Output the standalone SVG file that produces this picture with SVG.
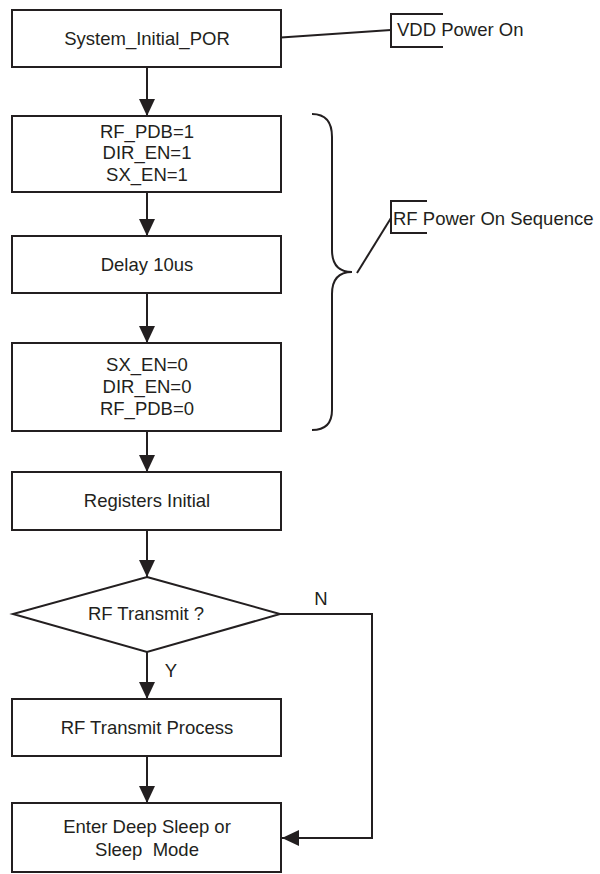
<svg xmlns="http://www.w3.org/2000/svg" width="600" height="874" viewBox="0 0 600 874">
<style>
.box{fill:#fff;stroke:#231f20;stroke-width:2}
.ln{fill:none;stroke:#231f20;stroke-width:2}
.t{font-family:"Liberation Sans",Arial,sans-serif;font-size:18.5px;fill:#231f20;text-anchor:middle;white-space:pre}
.tl{font-family:"Liberation Sans",Arial,sans-serif;font-size:18.5px;fill:#231f20;text-anchor:start}
</style>
<defs>
<marker id="ah" markerUnits="userSpaceOnUse" markerWidth="18" markerHeight="18" viewBox="0 0 18 18" refX="17" refY="9" orient="auto">
<path d="M0,1 L17,9 L0,17 Z" fill="#231f20"/>
</marker>
</defs>
<g id="connectors">
<line class="ln" x1="147" y1="67" x2="147" y2="116" marker-end="url(#ah)"/>
<line class="ln" x1="147" y1="192" x2="147" y2="236" marker-end="url(#ah)"/>
<line class="ln" x1="147" y1="293" x2="147" y2="343" marker-end="url(#ah)"/>
<line class="ln" x1="147" y1="431" x2="147" y2="472" marker-end="url(#ah)"/>
<line class="ln" x1="147" y1="530" x2="147" y2="577" marker-end="url(#ah)"/>
<line class="ln" x1="147" y1="652" x2="147" y2="699" marker-end="url(#ah)"/>
<line class="ln" x1="147" y1="756" x2="147" y2="803" marker-end="url(#ah)"/>
<polyline class="ln" points="280,614 372,614 372,838 282,838" marker-end="url(#ah)"/>
<text class="t" x="321" y="605">N</text>
<text class="t" x="171" y="677">Y</text>
</g>
<g id="n_por">
<rect class="box" x="12" y="10" width="269" height="57"/>
<text class="t" x="147" y="45">System_Initial_POR</text>
</g>
<g id="n_vdd">
<line class="ln" x1="281" y1="37.5" x2="391" y2="30"/>
<polyline class="ln" points="443,14 391,14 391,47 443,47"/>
<text class="tl" x="397" y="36">VDD Power On</text>
</g>
<g id="n_on">
<rect class="box" x="12" y="116" width="269" height="76"/>
<text class="t" x="147" y="138">RF_PDB=1</text>
<text class="t" x="147" y="159">DIR_EN=1</text>
<text class="t" x="147" y="180.5">SX_EN=1</text>
</g>
<g id="n_delay">
<rect class="box" x="12" y="236" width="269" height="57"/>
<text class="t" x="147" y="271">Delay 10us</text>
</g>
<g id="n_off">
<rect class="box" x="12" y="343" width="269" height="88"/>
<text class="t" x="147" y="370.5">SX_EN=0</text>
<text class="t" x="147" y="392.5">DIR_EN=0</text>
<text class="t" x="147" y="415">RF_PDB=0</text>
</g>
<g id="n_seq">
<path class="ln" d="M312,114 Q332,114 332,137 L332,250 Q332,272 352,272 Q332,272 332,294 L332,410 Q332,430 312,430"/>
<line class="ln" x1="357" y1="273" x2="391" y2="218"/>
<polyline class="ln" points="427,201 391,201 391,233 427,233"/>
<text class="tl" x="393" y="225">RF Power On Sequence</text>
</g>
<g id="n_reg">
<rect class="box" x="12" y="472" width="269" height="58"/>
<text class="t" x="147" y="507">Registers Initial</text>
</g>
<g id="n_dec">
<polygon class="box" points="147,577 280,614 147,652 13,614"/>
<text class="t" x="146" y="620">RF Transmit ?</text>
</g>
<g id="n_tx">
<rect class="box" x="12" y="699" width="269" height="57"/>
<text class="t" x="147" y="734">RF Transmit Process</text>
</g>
<g id="n_sleep">
<rect class="box" x="12" y="803" width="269" height="69"/>
<text class="t" x="147" y="833">Enter Deep Sleep or</text>
<text class="t" x="147" y="856">Sleep  Mode</text>
</g>
</svg>
